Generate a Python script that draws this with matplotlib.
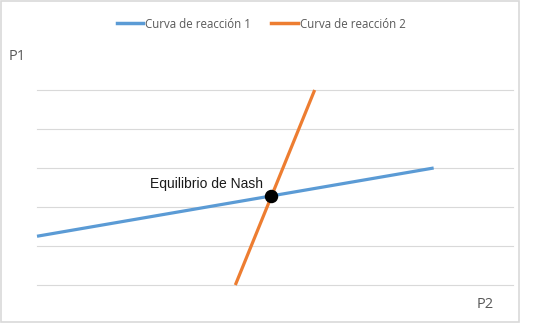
import matplotlib
matplotlib.use("Agg")
import matplotlib.pyplot as plt
from matplotlib.patches import Rectangle
from matplotlib.lines import Line2D

# Data
curve1_x = [0, 10]
curve1_y = [1.25, 3.0]
curve2_x = [5, 7]
curve2_y = [0, 5]
nash_x = [5.91]
nash_y = [2.28]
labels = ["Curva de reacción 1", "Curva de reacción 2"]
colors = ["#5B9BD5", "#ED7D31"]

W, H = 534, 326
fig = plt.figure(figsize=(W / 100, H / 100), dpi=100)
fig.patch.set_facecolor("white")

# axes area in pixels: x 37..513, y 90..285
ax = fig.add_axes([37 / W, 1 - 285 / H, (513 - 37) / W, (285 - 90) / H])
ax.set_xlim(0, 12)
ax.set_ylim(0, 5)
for s in ax.spines.values():
    s.set_visible(False)
ax.set_xticks([])
ax.set_yticks([0, 1, 2, 3, 4, 5])
ax.tick_params(axis="y", length=0, labelleft=False)
ax.grid(axis="y", color="#D9D9D9", linewidth=0.8)
for gl in ax.get_ygridlines():
    gl.set_clip_on(False)
ax.set_axisbelow(True)

ax.plot(curve1_x, curve1_y, color=colors[0], linewidth=2.3, solid_capstyle="butt", clip_on=False)
ax.plot(curve2_x, curve2_y, color=colors[1], linewidth=2.3, solid_capstyle="butt", clip_on=False)
ax.scatter(nash_x, nash_y, s=75, color="black", zorder=5, clip_on=False)
ax.text(nash_x[0] - 0.2, nash_y[0] + 0.3, "Equilibrio de Nash", ha="right", va="center",
        fontsize=10, family="Liberation Sans", color="#1a1a1a")

# Border around chart
fig.patches.append(Rectangle((0.5 / W, 1 - 322 / H), 518 / W, 321 / H, transform=fig.transFigure,
                             fill=False, edgecolor="#D9D9D9", linewidth=1.2))

# Legend
handles = [Line2D([0], [0], color=c, linewidth=2.5) for c in colors]
leg = fig.legend(handles, labels, loc="center", bbox_to_anchor=(261 / W, 1 - 24 / H), ncol=2,
                 frameon=False, handlelength=2.3, handletextpad=0.15,
                 columnspacing=1.8, prop={"family": "Open Sans", "size": 8.3})
for t in leg.get_texts():
    t.set_color("#595959")

fig.text(9 / W, 1 - 57 / H, "P1", fontsize=10.5, color="#595959", family="Open Sans", va="center", ha="left")
fig.text(494 / W, 1 - 305 / H, "P2", fontsize=10.5, color="#595959", family="Open Sans", va="center", ha="right")

fig.savefig("out.png", dpi=100, facecolor="white")
